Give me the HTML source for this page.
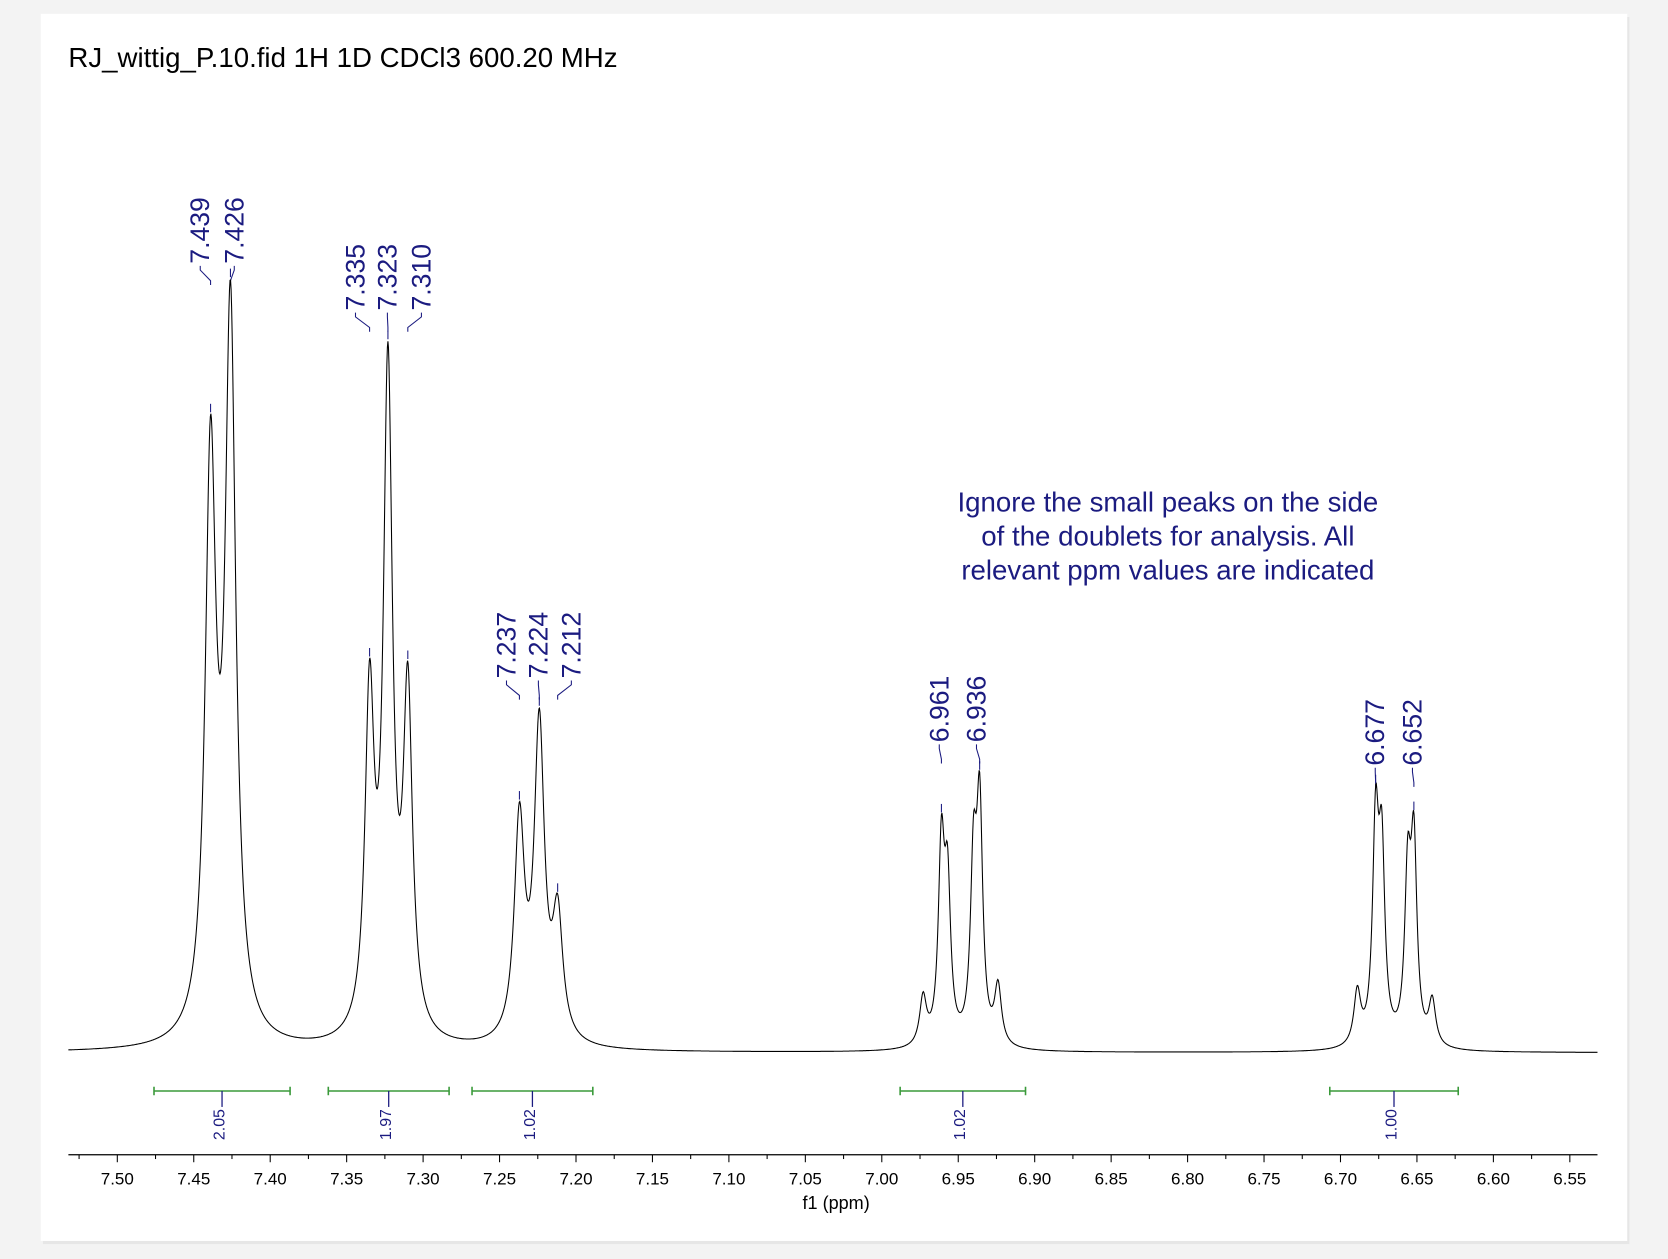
<!DOCTYPE html>
<html><head><meta charset="utf-8"><style>
html,body{margin:0;padding:0;background:#f3f3f3;}
svg{display:block;font-family:"Liberation Sans",sans-serif;}
</style></head><body>
<svg id="chart" width="1668" height="1259" viewBox="0 0 1568 1184" xmlns="http://www.w3.org/2000/svg">
<rect x="0" y="0" width="1568" height="1184" fill="#f3f3f3"/>
<rect x="40" y="16" width="1492" height="1154" fill="#e6e6e6"/>
<rect x="38" y="13" width="1492" height="1154" fill="#ffffff"/>
<text x="64" y="63" font-size="26" fill="#000">RJ_wittig_P.10.fid 1H 1D CDCl3 600.20 MHz</text>
<g fill="#1b1b80" font-size="26" text-anchor="middle">
<text x="1098" y="481">Ignore the small peaks on the side</text>
<text x="1098" y="513">of the doublets for analysis. All</text>
<text x="1098" y="545">relevant ppm values are indicated</text>
</g>
<g id="axis"></g>
<g id="integ"></g>
<g id="labels"></g>
<path id="spec" fill="none" stroke="#000" stroke-width="1"/>
<text x="786" y="1137" font-size="17" text-anchor="middle" fill="#000">f1 (ppm)</text>
</svg>
<script>
// data
const peakPpm = [7.439,7.426, 7.335,7.323,7.310, 7.237,7.224,7.212, 6.973,6.961,6.957,6.940,6.936,6.924, 6.689,6.677,6.673,6.656,6.652,6.640];
const peakAmp = [535,675, 310,618,315, 205,293,113, 45,180,140,160,215,55, 50,200,170,150,180,42];
const peakWidth = [0.0042,0.0042, 0.0036,0.0036,0.0036, 0.004,0.004,0.004, 0.0027,0.0024,0.0024,0.0024,0.0024,0.0027, 0.0027,0.0024,0.0024,0.0024,0.0024,0.0027];
const labelPpm = ["7.439","7.426","7.335","7.323","7.310","7.237","7.224","7.212","6.961","6.936","6.677","6.652"];
const integRanges = [[7.476,7.387],[7.362,7.283],[7.268,7.189],[6.988,6.906],[6.707,6.623]];
const integValues = ["2.05","1.97","1.02","1.02","1.00"];
const tickLabels = ["7.50","7.45","7.40","7.35","7.30","7.25","7.20","7.15","7.10","7.05","7.00","6.95","6.90","6.85","6.80","6.75","6.70","6.65","6.60","6.55"];

const X0=110, PX=(1476-110)/0.95, BASE=990;
const xs = p => X0 + (7.50-p)*PX;
const ppmAt = x => 7.50 - (x-X0)/PX;
const NS="http://www.w3.org/2000/svg";
function mk(tag, attrs, parent){const e=document.createElementNS(NS,tag);for(const k in attrs)e.setAttribute(k,attrs[k]);parent.appendChild(e);return e;}
function sig(p){let s=0;for(let i=0;i<peakPpm.length;i++){const d=(p-peakPpm[i])/peakWidth[i];s+=peakAmp[i]/(1+d*d);}return s;}

// spectrum
let d="";
for(let x=64;x<=1502;x+=0.5){const y=BASE-sig(ppmAt(x));d+=(x===64?"M":"L")+x.toFixed(1)+","+y.toFixed(1);}
document.getElementById('spec').setAttribute('d',d);

// axis
const ax=document.getElementById('axis');
const axl=mk('line',{x1:64,x2:1502,y1:1086,y2:1086,stroke:'#000','stroke-width':1.2},ax);


tickLabels.forEach(t=>{const p=parseFloat(t),x=xs(p);
 const tk=mk('line',{x1:x,x2:x,y1:1086,y2:1093,stroke:'#000'},ax);
 
 
 const mx=xs(p-0.025);
 if(mx<1502){const m=mk('line',{x1:mx,x2:mx,y1:1086,y2:1090,stroke:'#000'},ax);
 
 }
 const lb=mk('text',{x:x,y:1114,'font-size':16,'text-anchor':'middle',fill:'#000'},ax);lb.textContent=t;
 
 
});
const m0=mk('line',{x1:xs(7.525),x2:xs(7.525),y1:1086,y2:1090,stroke:'#000'},ax);



// integrals
const ig=document.getElementById('integ');
integRanges.forEach((r,i)=>{const a=xs(r[0]),b=xs(r[1]),c=(a+b)/2;
 const g=mk('g',{},ig);
 
 
 mk('line',{x1:a,x2:b,y1:1026,y2:1026,stroke:'#3a9a3a','stroke-width':1.5},g);
 mk('line',{x1:a,x2:a,y1:1022,y2:1030,stroke:'#3a9a3a','stroke-width':1.5},g);
 mk('line',{x1:b,x2:b,y1:1022,y2:1030,stroke:'#3a9a3a','stroke-width':1.5},g);
 mk('line',{x1:c,x2:c,y1:1026,y2:1041,stroke:'#1b1b80','stroke-width':1.2},g);
 const t=mk('text',{x:0,y:0,'font-size':15,fill:'#1b1b80','text-anchor':'end','dominant-baseline':'central',transform:`translate(${c-2},1043) rotate(-90)`},g);
 t.textContent=integValues[i];
});

// peak labels: [labelX, labelBottom]
const lab=document.getElementById('labels');
const labelPos=[[188,262],[220,262],[334,306],[364,306],[396,306],[476,652],[506,652],[537,652],[883,712],[918,712],[1293,734],[1328,734]];
labelPpm.forEach((s,i)=>{const px=xs(parseFloat(s)),lx=labelPos[i][0],lb=labelPos[i][1];
 const g=mk('g',{},lab);
 
 
 const t=mk('text',{x:0,y:0,'font-size':25,fill:'#1b1b80','dominant-baseline':'central',transform:`translate(${lx},${lb-14}) rotate(-90)`},g);
 t.textContent=s;
 mk('path',{d:`M${lx},${lb-12} L${lx},${lb-8} L${px},${lb+2} L${px},${lb+6}`,fill:'none',stroke:'#1b1b80','stroke-width':1},g);
 const top=BASE-sig(parseFloat(s));
 mk('line',{x1:px,x2:px,y1:top-10,y2:top-2,stroke:'#1b1b80','stroke-width':1},g);
});
</script>
</body></html>
